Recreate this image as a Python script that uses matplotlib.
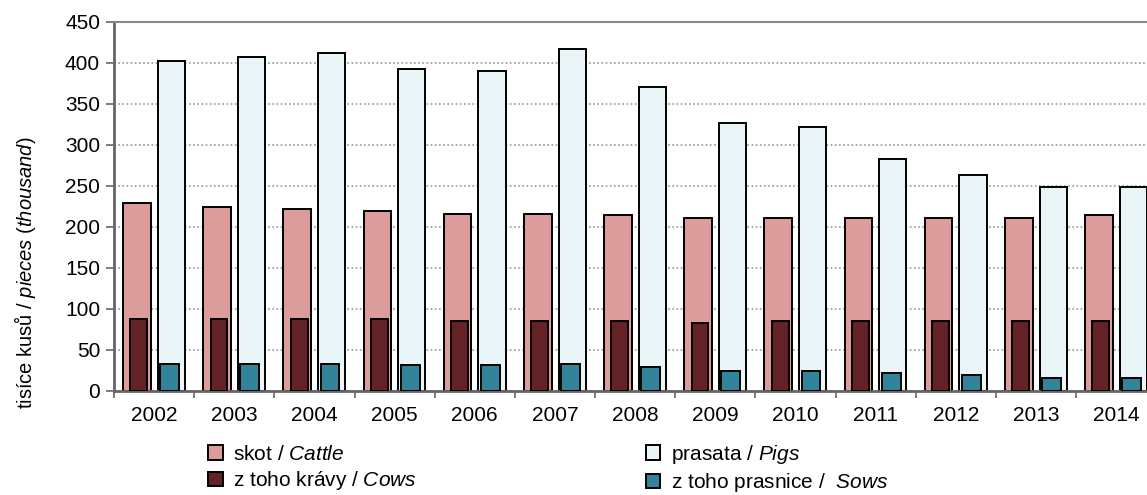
import numpy as np
import matplotlib.pyplot as plt
from matplotlib.patches import Patch

plt.rcParams['font.family'] = ['Liberation Sans', 'DejaVu Sans']
plt.rcParams['mathtext.fontset'] = 'custom'
plt.rcParams['mathtext.rm'] = 'Liberation Sans'
plt.rcParams['mathtext.it'] = 'Liberation Sans:italic'

# data (thousand head, 1 April)
years = ['2002', '2003', '2004', '2005', '2006', '2007', '2008',
         '2009', '2010', '2011', '2012', '2013', '2014']
cattle = [229, 224, 221, 219, 216, 216, 214, 211, 211, 211, 211, 211, 214]
pigs = [402, 407, 412, 392, 390, 417, 370, 326, 322, 282, 263, 248, 248]
cows = [87, 87, 87, 87, 85, 85, 85, 83, 85, 85, 85, 85, 85]
sows = [33, 33, 33, 31, 31, 33, 29, 24, 24, 21, 19, 16, 16]

c_cattle = '#DC9C9C'
c_pigs = '#EAF5F8'
c_cows = '#632326'
c_sows = '#31849B'

fig = plt.figure(figsize=(11.47, 4.95), dpi=100)
ax = fig.add_axes([0.0994, 0.2107, 0.9086, 0.7455])

x = np.arange(len(years))
ec = dict(edgecolor='black', linewidth=1.4)
ax.bar(x - 0.215, cattle, width=0.345, color=c_cattle, zorder=2, **ec)
ax.bar(x + 0.215, pigs, width=0.34, color=c_pigs, zorder=2, **ec)
ax.bar(x - 0.19, cows, width=0.21, color=c_cows, zorder=3, **ec)
ax.bar(x + 0.195, sows, width=0.235, color=c_sows, zorder=3, **ec)

ax.set_xlim(-0.5, len(years) - 0.5)
ax.set_ylim(0, 450)
ax.set_yticks(np.arange(0, 451, 50))
ax.tick_params(axis='y', labelsize=15, length=6, width=1.2, color='#666666', pad=4)
ax.set_xticks(x)
ax.set_xticklabels(years)
ax.tick_params(axis='x', which='major', length=0, labelsize=15, pad=11)
ax.set_xticks(np.arange(-0.5, len(years), 1), minor=True)
ax.tick_params(axis='x', which='minor', length=5, width=1.2, color='#666666')

ax.yaxis.grid(True, linestyle=(0, (1, 1.5)), color='#999999', linewidth=1.2, zorder=0)
ax.set_axisbelow(True)
for s in ['left', 'bottom']:
    ax.spines[s].set_color('#666666')
    ax.spines[s].set_linewidth(2)
ax.spines['top'].set_color('#888888')
ax.spines['top'].set_linewidth(1.5)
ax.spines['right'].set_visible(False)

fig.text(25 / 1147, 1 - 273 / 495, r'tisíce kusů / $\mathit{pieces\ (thousand)}$',
         rotation=90, ha='center', va='center', fontsize=14.5)

# title sits mostly above the cropped top edge, only descenders show
fig.text(607 / 1147, 1 + 4.5 / 495, 'Livestock in the Vysočina Region (on 1st April of each year)',
         ha='center', va='baseline', fontsize=16, fontweight='bold', style='italic')

handles = [
    Patch(facecolor=c_cattle, edgecolor='black', linewidth=1.4),
    Patch(facecolor=c_cows, edgecolor='black', linewidth=1.4),
    Patch(facecolor=c_pigs, edgecolor='black', linewidth=1.4),
    Patch(facecolor=c_sows, edgecolor='black', linewidth=1.4),
]
labels = [r'skot / $\mathit{Cattle}$', r'z toho krávy / $\mathit{Cows}$',
          r'prasata / $\mathit{Pigs}$', r'z toho prasnice /  $\mathit{Sows}$']
fig.legend(handles, labels, ncol=2, loc='upper left',
           bbox_to_anchor=(208 / 1147, 1 - 443 / 495), frameon=False,
           fontsize=15, handlelength=0.7, handleheight=0.7, handletextpad=0.5,
           columnspacing=11.0, labelspacing=0.25, borderaxespad=0, borderpad=0)

fig.savefig('out.png', dpi=100)
